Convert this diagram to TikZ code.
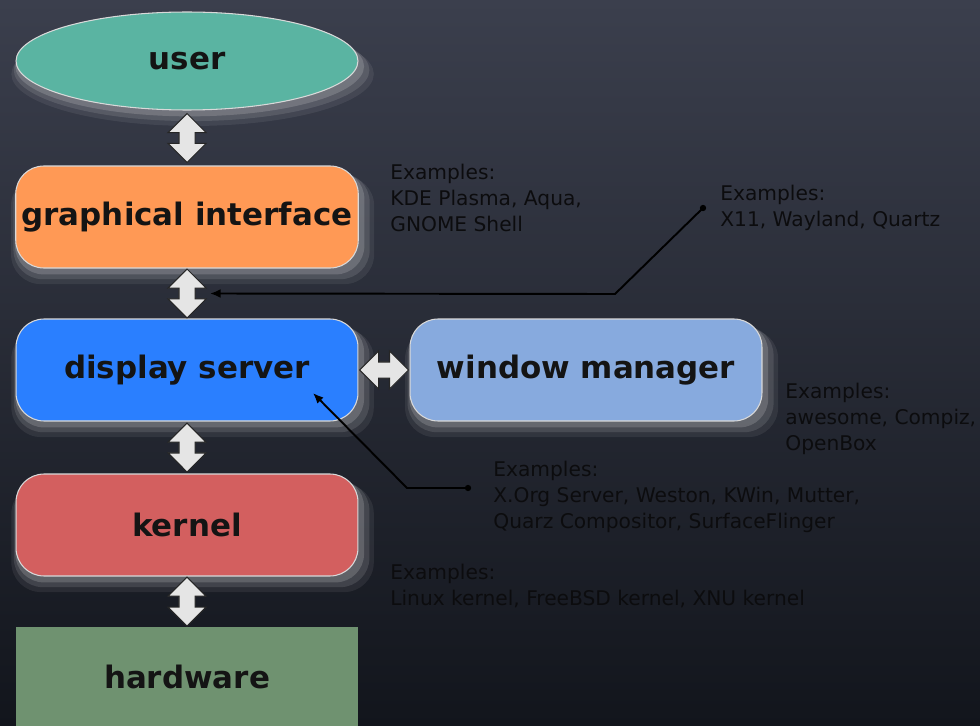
\documentclass[tikz,border=0pt]{standalone}
\usepackage{fontspec}
\setmainfont{DejaVu Sans}
\usetikzlibrary{shapes,shapes.geometric,shapes.arrows,arrows.meta,calc,shadows}

\definecolor{bgtop}{HTML}{3B3F4D}
\definecolor{bgbottom}{HTML}{12151C}
\definecolor{usercol}{HTML}{5AB4A2}
\definecolor{guicol}{HTML}{FF9955}
\definecolor{dscol}{HTML}{2A7FFF}
\definecolor{wmcol}{HTML}{87AADE}
\definecolor{kernelcol}{HTML}{D35F5F}
\definecolor{hwcol}{HTML}{6F9270}
\definecolor{notecol}{HTML}{0C0C0E}

\tikzset{
  glow/.style={
      drop shadow={shadow scale=1.06, shadow xshift=3pt, shadow yshift=-7pt,
        fill=white, opacity=0.07},
      drop shadow={shadow scale=1.04, shadow xshift=2.5pt, shadow yshift=-5pt,
        fill=white, opacity=0.11},
      drop shadow={shadow scale=1.02, shadow xshift=1.5pt, shadow yshift=-3pt,
        fill=white, opacity=0.16}},
  layer/.style={font=\fontsize{17.6}{20}\selectfont\bfseries, text=black!92},
  box/.style={layer, draw=white!85!black, line width=0.6pt, glow,
      rounded corners=0.56cm, minimum width=6.84cm, minimum height=2.04cm},
  dblarrow/.style={double arrow, draw=black!85, fill=white!90!black,
      line width=0.6pt, inner sep=0.15cm, minimum height=0.98cm,
      double arrow head extend=0.22cm},
  note/.style={anchor=north west, align=left, inner sep=0,
      font=\fontsize{11.5}{14.7}\selectfont, text=notecol},
  callout/.style={draw=black, line width=1.1pt, -{Latex[length=6pt,width=5pt]}}
}

\begin{document}
\begin{tikzpicture}[x=0.02cm, y=-0.02cm, align=center]
  \def \w {6.84cm}
  \useasboundingbox (0,0) rectangle (980,726);
  \shade[top color=bgtop, bottom color=bgbottom] (0,0) rectangle (980,726);

  \node[box, rounded corners=0pt, ellipse, fill=usercol, minimum height=1.96cm]
    (user) at (187,61) {user};
  \node[box, fill=guicol] (gui) at (187,217) {graphical interface};
  \node[box, fill=dscol] (ds) at (187,370) {display server};
  \node[box, fill=wmcol, minimum width=7.04cm] (wm) at (586,370) {window manager};
  \node[box, fill=kernelcol] (kernel) at (187,525) {kernel};
  \node[layer, fill=hwcol, minimum width=\w, minimum height=1.98cm]
    (hw) at (187,676.5) {hardware};

  \path (user.south) -- node[dblarrow, sloped] (ug) {} (gui.north);
  \path (gui.south) -- node[dblarrow, sloped] (gd) {} (ds.north);
  \path (ds.south) -- node[dblarrow, sloped] (dk) {} (kernel.north);
  \path (kernel.south) -- node[dblarrow, sloped] (kh) {} (hw.north);
  \path (ds.east) -- node[dblarrow, sloped] (dw) {} (wm.west);

  \node[note] (guiex) at (390,164) {Examples:\\KDE Plasma, Aqua,\\GNOME Shell};
  \node[note] (protoex) at (720,185) {Examples:\\X11, Wayland, Quartz};
  \node[note] (wmex) at (785,383) {Examples:\\awesome, Compiz,\\OpenBox};
  \node[note] (dsex) at (493,461) {Examples:\\X.Org Server, Weston, KWin, Mutter,\\Quarz Compositor, SurfaceFlinger};
  \node[note] (kernelex) at (390,564) {Examples:\\Linux kernel, FreeBSD kernel, XNU kernel};

  %% callouts
  \coordinate (protodot) at (703,208);
  \coordinate (prototip) at ($(gd.center)+(0.46cm,0)$);
  \fill (protodot) circle (1.8pt);
  \draw[callout] (protodot) -- (615,294) -- (prototip);

  \coordinate (dsdot) at (468,488);
  \coordinate (dstip) at ($(ds.center)+(2.52cm,-0.46cm)$);
  \fill (dsdot) circle (1.8pt);
  \draw[callout] (dsdot) -- (407,488) -- (dstip);
\end{tikzpicture}
\end{document}
